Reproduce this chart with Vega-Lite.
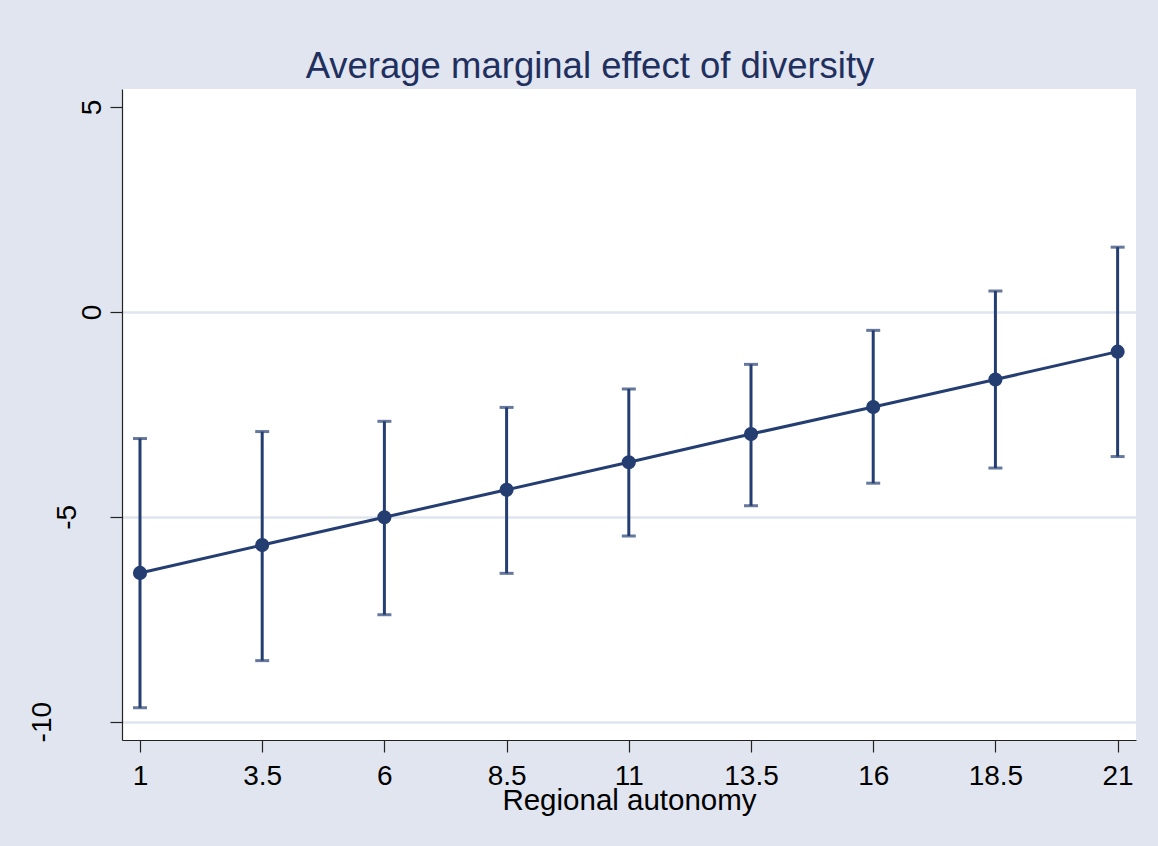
{
  "$schema": "https://vega.github.io/schema/vega-lite/v6.json",
  "width": 1014,
  "height": 651,
  "autosize": {"type": "none"},
  "padding": {"left": 122, "top": 89, "right": 22, "bottom": 106},
  "background": "#e0e5ef",
  "title": {
    "text": "Average marginal effect of diversity",
    "font": "Liberation Sans",
    "fontSize": 36.5,
    "fontWeight": "normal",
    "color": "#1f2f5e",
    "anchor": "middle",
    "baseline": "alphabetic",
    "dx": -39,
    "offset": -25
  },
  "config": {
    "view": {"stroke": null, "fill": "white"},
    "font": "Liberation Sans"
  },
  "data": {
    "values": [
      {"autonomy": 1, "est": -6.37, "lo": -9.66, "hi": -3.09},
      {"autonomy": 3.5, "est": -5.69, "lo": -8.51, "hi": -2.92},
      {"autonomy": 6, "est": -5.01, "lo": -7.39, "hi": -2.67},
      {"autonomy": 8.5, "est": -4.34, "lo": -6.38, "hi": -2.33},
      {"autonomy": 11, "est": -3.67, "lo": -5.47, "hi": -1.88},
      {"autonomy": 13.5, "est": -2.98, "lo": -4.73, "hi": -1.28},
      {"autonomy": 16, "est": -2.32, "lo": -4.18, "hi": -0.45},
      {"autonomy": 18.5, "est": -1.65, "lo": -3.81, "hi": 0.51},
      {"autonomy": 21, "est": -0.97, "lo": -3.53, "hi": 1.58}
    ]
  },
  "encoding": {
    "x": {
      "field": "autonomy",
      "type": "quantitative",
      "scale": {"domain": [0.632, 21.376], "nice": false, "zero": false},
      "axis": {
        "values": [1, 3.5, 6, 8.5, 11, 13.5, 16, 18.5, 21],
        "labelExpr": "'' + datum.value",
        "title": "Regional autonomy",
        "titleFont": "Liberation Sans",
        "titleFontSize": 29.5,
        "titleFontWeight": "normal",
        "titleColor": "#000000",
        "titleBaseline": "alphabetic",
        "titleY": 69,
        "labelFont": "Liberation Sans",
        "labelFontSize": 28,
        "labelColor": "#000000",
        "labelPadding": 10,
        "labelFlush": false,
        "labelOverlap": false,
        "tickSize": 12,
        "tickColor": "#222222",
        "tickWidth": 1.2,
        "domainColor": "#222222",
        "domainWidth": 1.2,
        "grid": false
      }
    }
  },
  "layer": [
    {
      "mark": {"type": "rule", "color": "#253e72", "strokeWidth": 3},
      "encoding": {
        "y": {
          "field": "lo",
          "type": "quantitative",
          "scale": {"domain": [-10.447, 5.44], "nice": false, "zero": false},
          "axis": {
            "values": [-10, -5, 0, 5],
            "labelExpr": "'' + datum.value",
            "title": null,
            "labelFont": "Liberation Sans",
            "labelFontSize": 28,
            "labelColor": "#000000",
            "labelAngle": 270,
            "labelAlign": "center",
            "labelBaseline": "alphabetic",
            "labelPadding": {
              "condition": [
                {"test": "datum.value == -5", "value": 35},
                {"test": "datum.value == -10", "value": 60}
              ],
              "value": 10
            },
            "labelFlush": false,
            "labelOverlap": false,
            "tickSize": 12,
            "tickColor": "#222222",
            "tickWidth": 1.2,
            "domainColor": "#222222",
            "domainWidth": 1.2,
            "grid": true,
            "gridColor": "#dfe4ee",
            "gridWidth": 2.5,
            "gridOpacity": {"condition": {"test": "datum.value == 5", "value": 0}, "value": 1}
          }
        },
        "y2": {"field": "hi"}
      }
    },
    {
      "mark": {"type": "tick", "color": "#253e72", "orient": "horizontal", "size": 14, "thickness": 3},
      "encoding": {"y": {"field": "lo", "type": "quantitative"}}
    },
    {
      "mark": {"type": "tick", "color": "#253e72", "orient": "horizontal", "size": 14, "thickness": 3},
      "encoding": {"y": {"field": "hi", "type": "quantitative"}}
    },
    {
      "mark": {"type": "line", "color": "#253e72", "strokeWidth": 3},
      "encoding": {"y": {"field": "est", "type": "quantitative"}}
    },
    {
      "mark": {"type": "circle", "color": "#253e72", "opacity": 1, "size": 200},
      "encoding": {"y": {"field": "est", "type": "quantitative"}}
    }
  ]
}
